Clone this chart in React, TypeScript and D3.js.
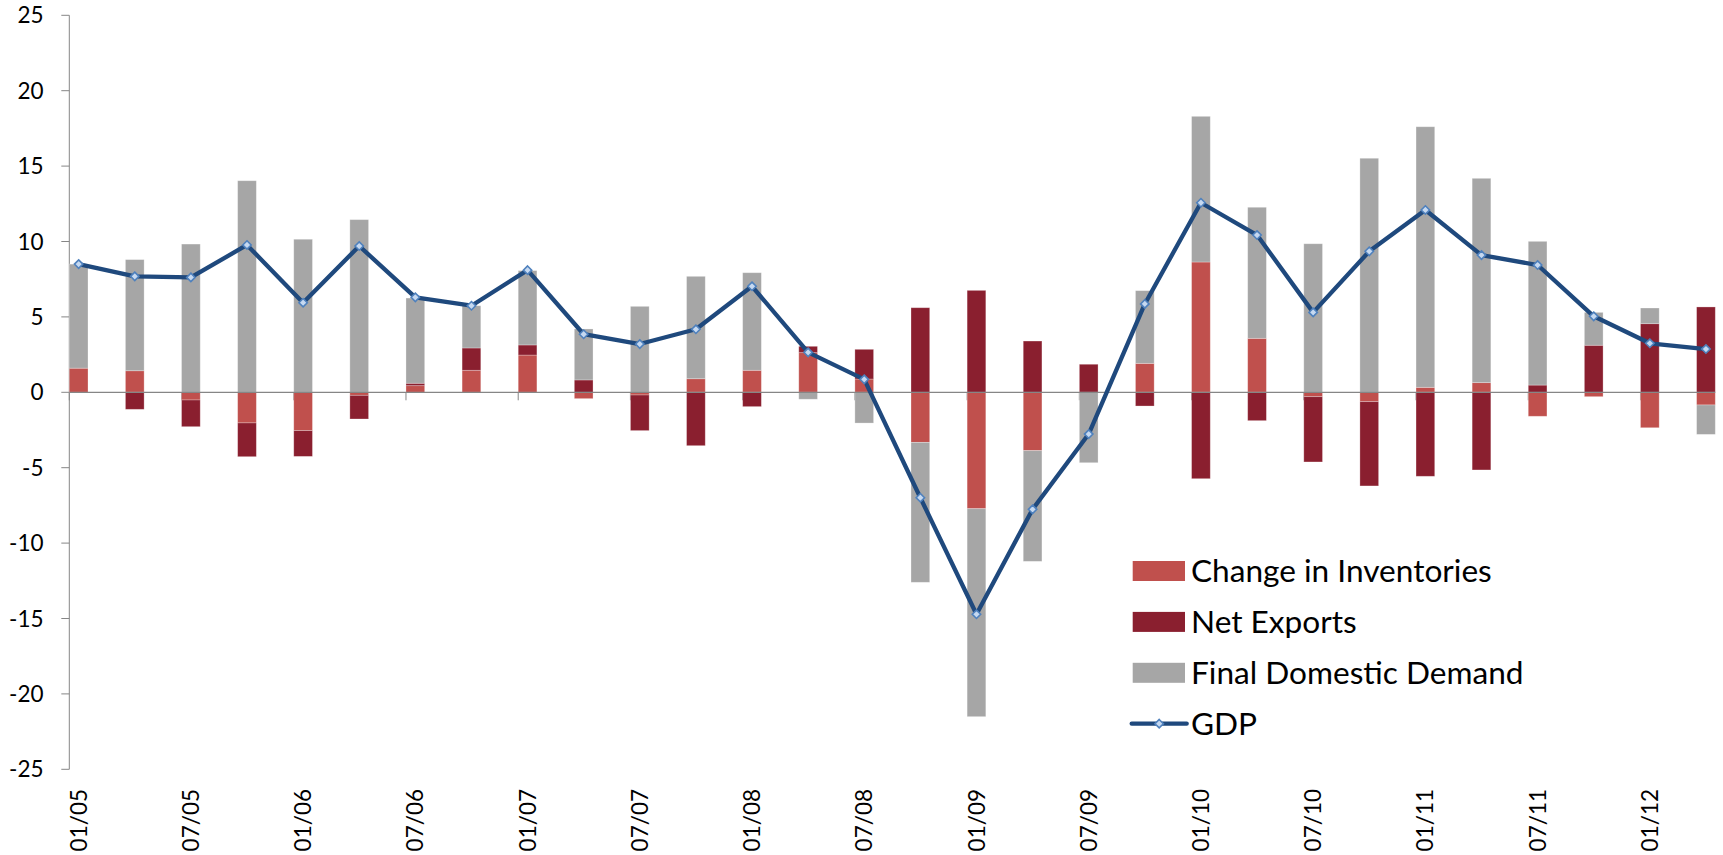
import React from "react";
import * as d3 from "d3";

// Quarterly data, Q1 2005 .. Q2 2012 (month index = quarter * 3, Jan 2005 = 0)
const quarterMonths = [0, 3, 6, 9, 12, 15, 18, 21, 24, 27, 30, 33, 36, 39, 42, 45, 48, 51, 54, 57, 60, 63, 66, 69, 72, 75, 78, 81, 84, 87];

const inventories = [1.6, 1.43, -0.51, -2.03, -2.54, -0.2, 0.44, 1.46, 2.47, -0.42, -0.18, 0.9, 1.46, 2.63, 0.88, -3.32, -7.72, -3.87, 0.0, 1.92, 8.64, 3.58, -0.29, -0.62, 0.33, 0.64, -1.59, -0.29, -2.35, -0.84];
const netExports = [0, -1.13, -1.77, -2.24, -1.71, -1.57, 0.16, 1.48, 0.67, 0.82, -2.36, -3.54, -0.95, 0.42, 1.97, 5.61, 6.76, 3.4, 1.86, -0.91, -5.73, -1.88, -4.33, -5.59, -5.57, -5.15, 0.48, 3.12, 4.55, 5.66];
const finalDomesticDemand = [6.9, 7.37, 9.83, 14.03, 10.15, 11.45, 5.65, 2.8, 4.93, 3.38, 5.7, 6.79, 6.47, -0.46, -2.04, -9.28, -13.79, -7.34, -4.67, 4.82, 9.66, 8.69, 9.85, 15.52, 17.28, 13.55, 9.53, 2.18, 1.04, -1.95];
const gdp = [8.5, 7.69, 7.62, 9.77, 5.94, 9.7, 6.3, 5.74, 8.1, 3.85, 3.2, 4.18, 7.03, 2.65, 0.86, -6.99, -14.72, -7.76, -2.77, 5.86, 12.57, 10.43, 5.3, 9.35, 12.09, 9.1, 8.44, 5.04, 3.25, 2.87];

const tickMonths = [0, 6, 12, 18, 24, 30, 36, 42, 48, 54, 60, 66, 72, 78, 84];
const tickLabels = ["01/05", "07/05", "01/06", "07/06", "01/07", "07/07", "01/08", "07/08", "01/09", "07/09", "01/10", "07/10", "01/11", "07/11", "01/12"];
const yTicks = [-25, -20, -15, -10, -5, 0, 5, 10, 15, 20, 25];

const seriesNames = ["Change in Inventories", "Net Exports", "Final Domestic Demand"];
const seriesColors = ["#C0504D", "#8A1F2F", "#A6A6A6"];
const lineName = "GDP";
const lineColor = "#1F497D";

const W = 1723;
const H = 855;
const left = 69.3;
const right = 1715.3;
const top = 15.3;
const bottom = 769.3;
const FONT = "Lato, 'Open Sans', sans-serif";

export default function App() {
  const allMonths = d3.range(0, 88);
  const x = d3.scaleBand<number>().domain(allMonths).range([left, right]).padding(0);
  const y = d3.scaleLinear().domain([-25, 25]).range([bottom, top]);
  const bw = x.bandwidth();

  const rows = quarterMonths.map((m, i) => ({
    m,
    a: inventories[i],
    b: netExports[i],
    c: finalDomesticDemand[i],
  }));
  const keys = ["a", "b", "c"];
  const stacked = d3.stack<any>().keys(keys).offset(d3.stackOffsetDiverging)(rows);

  const line = d3
    .line<number>()
    .x((_, i) => (x(quarterMonths[i]) as number) + bw / 2)
    .y((v) => y(v));

  const diamond = (cx: number, cy: number, r: number) =>
    `M${cx},${cy - r}L${cx + r},${cy}L${cx},${cy + r}L${cx - r},${cy}Z`;

  const legendX = 1132.7;
  const legendY0 = 571;
  const legendStep = 50.9;

  return (
    <svg
      width={W}
      height={H}
      style={{ position: "absolute", left: 0, top: 0, background: "#fff" }}
      fontFamily={FONT}
    >
      <rect x={0} y={0} width={W} height={H} fill="#fff" />
      {/* y axis */}
      <line x1={left} x2={left} y1={top} y2={bottom} stroke="#868686" strokeWidth={1} />
      {yTicks.map((t) => (
        <g key={t}>
          <line x1={left - 8} x2={left} y1={y(t)} y2={y(t)} stroke="#868686" strokeWidth={1} />
          <text x={43.5} y={y(t)} dy="0.36em" textAnchor="end" fontSize={22.5} fill="#000">
            {t}
          </text>
        </g>
      ))}
      {/* x axis ticks */}
      {tickMonths.map((m) => (
        <line key={m} x1={x(m)} x2={x(m)} y1={y(0)} y2={y(0) + 8} stroke="#868686" strokeWidth={1} />
      ))}
      {/* bars */}
      {stacked.map((s, si) => (
        <g key={si} fill={seriesColors[si]}>
          {s.map((d, i) => {
            const y0 = y(d[0]);
            const y1 = y(d[1]);
            const h = Math.abs(y0 - y1);
            if (h < 0.01) return null;
            return (
              <rect
                key={i}
                x={x(rows[i].m)}
                y={Math.min(y0, y1)}
                width={bw}
                height={h}
                stroke="rgba(255,255,255,0.35)"
                strokeWidth={0.8}
              />
            );
          })}
        </g>
      ))}
      {/* zero line */}
      <line x1={left} x2={right} y1={y(0)} y2={y(0)} stroke="#868686" strokeWidth={1.2} />
      {/* GDP line */}
      <path d={line(gdp) || ""} fill="none" stroke={lineColor} strokeWidth={4.3} strokeLinejoin="round" />
      {gdp.map((v, i) => {
        const cx = (x(quarterMonths[i]) as number) + bw / 2;
        return <path key={i} d={diamond(cx, y(v), 4.2)} fill="#C6D9F1" stroke="#4F81BD" strokeWidth={1.6} />;
      })}
      {/* x labels */}
      {tickMonths.map((m, i) => {
        const cx = (x(m) as number) + bw / 2;
        return (
          <text
            key={m}
            transform={`translate(${cx},789) rotate(-90)`}
            dy="0.36em"
            textAnchor="end"
            fontSize={22.5}
            fill="#000"
          >
            {tickLabels[i]}
          </text>
        );
      })}
      {/* legend */}
      {seriesNames.map((n, i) => {
        const cy = legendY0 + i * legendStep;
        return (
          <g key={n}>
            <rect x={legendX} y={cy - 10} width={52.3} height={20} fill={seriesColors[i]} />
            <text x={1191} y={cy} dy="0.36em" fontSize={31.6} fill="#000">
              {n}
            </text>
          </g>
        );
      })}
      {(() => {
        const cy = legendY0 + 3 * legendStep;
        return (
          <g>
            <line x1={legendX - 1} x2={legendX + 54} y1={cy} y2={cy} stroke={lineColor} strokeWidth={4.3} strokeLinecap="round" />
            <path d={diamond(legendX + 26.5, cy, 4.2)} fill="#C6D9F1" stroke="#4F81BD" strokeWidth={1.6} />
            <text x={1191} y={cy} dy="0.36em" fontSize={31.6} fill="#000">
              {lineName}
            </text>
          </g>
        );
      })()}
    </svg>
  );
}
